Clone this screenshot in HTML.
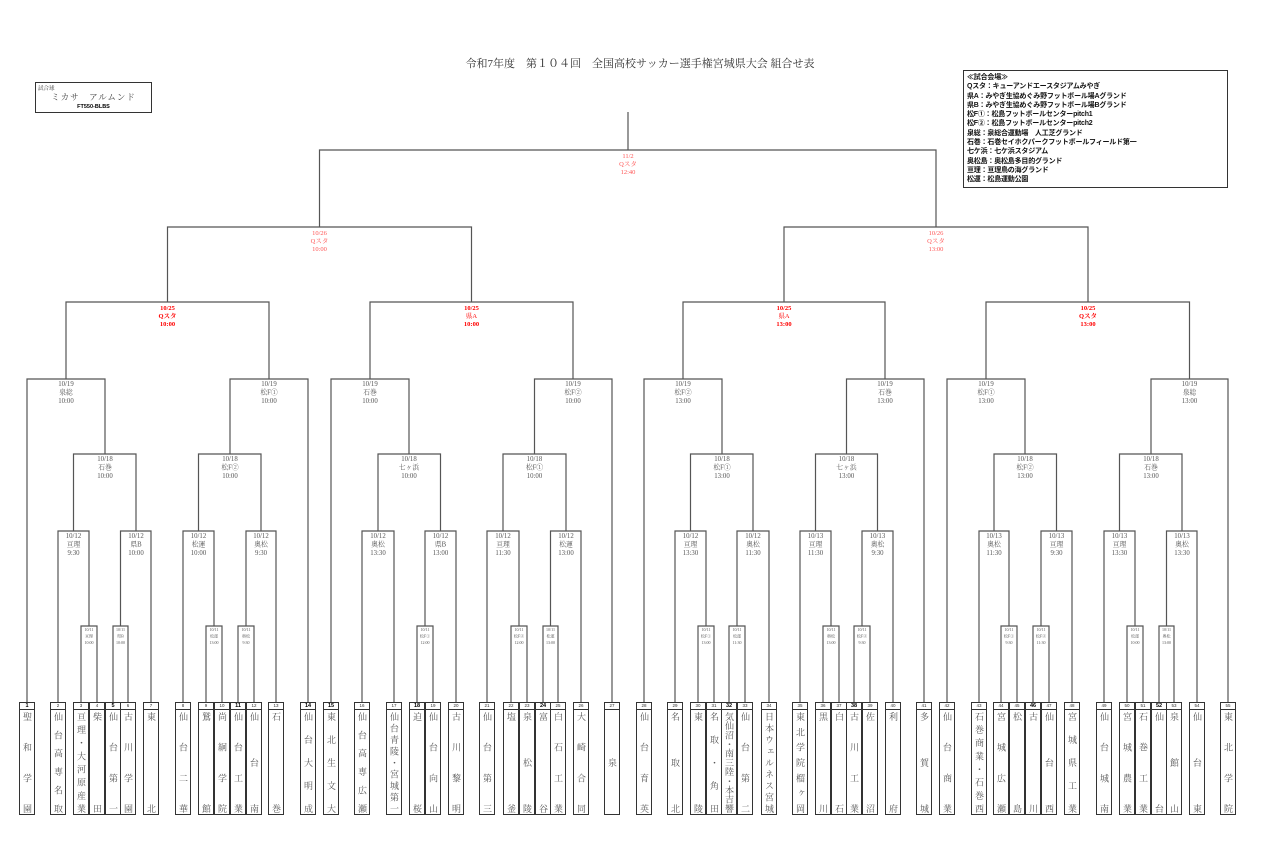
<!DOCTYPE html>
<html><head><meta charset="utf-8">
<style>
body{margin:0;background:#fff;}
#w{position:relative;width:1280px;height:854px;overflow:hidden;font-family:"Liberation Serif","Noto Serif CJK JP",serif;}
svg{position:absolute;left:0;top:0;}
.t{position:absolute;top:702px;width:16px;height:113px;border:1px solid #333;box-sizing:border-box;background:#fff;}
.n{height:6px;border-bottom:1px solid #333;font:4.5px "Liberation Sans",sans-serif;text-align:center;line-height:6px;color:#333;}
.n.b{font-weight:bold;font-size:5.5px;color:#000;}
.m{writing-mode:vertical-rl;text-orientation:upright;height:101px;width:14px;margin-top:2px;font-size:9px;line-height:14px;color:#555;text-align:justify;text-align-last:justify;font-family:"Liberation Serif","Noto Serif CJK JP",serif;}
.m.c{text-align:center;text-align-last:center;}
#ttl{position:absolute;left:0;width:1280px;top:55px;text-align:center;font-size:11px;color:#333;}
#ball{position:absolute;left:35px;top:82px;width:117px;height:31px;border:1px solid #333;box-sizing:border-box;}
#leg{position:absolute;left:963px;top:70px;width:265px;height:118px;border:1px solid #333;box-sizing:border-box;padding:2px 3px;font:bold 7px/9.3px "Liberation Sans","Noto Sans CJK JP",sans-serif;letter-spacing:-0.2px;color:#111;white-space:nowrap;overflow:hidden;}
</style></head><body><div id="w">
<div id="ttl">令和7年度　第１０４回　全国高校サッカー選手権宮城県大会 組合せ表</div>
<div id="ball"><div style="position:absolute;left:2px;top:1px;font-size:5.5px;color:#333">試合球</div><div style="position:absolute;left:0;width:115px;top:8px;text-align:center;font-size:8.5px;color:#444;letter-spacing:1px">ミカサ　アルムンド</div><div style="position:absolute;left:0;width:115px;top:21px;text-align:center;font:bold 5.5px 'Liberation Sans',sans-serif">FT550-BLBS</div></div>
<div id="leg">≪試合会場≫<br>Qスタ：キューアンドエースタジアムみやぎ<br>県A：みやぎ生協めぐみ野フットボール場Aグランド<br>県B：みやぎ生協めぐみ野フットボール場Bグランド<br>松F①：松島フットボールセンターpitch1<br>松F②：松島フットボールセンターpitch2<br>泉総：泉総合運動場　人工芝グランド<br>石巻：石巻セイホクパークフットボールフィールド第一<br>七ケ浜：七ケ浜スタジアム<br>奥松島：奥松島多目的グランド<br>亘理：亘理鳥の海グランド<br>松運：松島運動公園</div>
<svg width="1280" height="854" viewBox="0 0 1280 854">
<g fill="none" stroke="#555" stroke-width="1.2">
<path d="M81 702V626H97V702M113 702V626H128V702M206 702V626H222V702M238 702V626H254V702M58 702V531H89V626M120.5 626V531H151V702M183 702V531H214V626M246 626V531H276V702M73.5 531V454H136V531M198.5 531V454H261V531M27 702V379H105V454M230 454V379H308V702M66 379V302H269V379"/>
<path d="M417 702V626H433V702M511 702V626H527V702M543 702V626H558V702M362 702V531H394V702M425 626V531H456V702M487 702V531H519V626M550.5 626V531H581V702M378 531V454H440.5V531M503 531V454H566V531M331 702V379H409V454M534.5 454V379H612V702M370 379V302H573V379"/>
<path d="M698 702V626H714V702M729 702V626H745V702M823 702V626H839V702M854 702V626H870V702M675 702V531H706V626M737 626V531H769V702M800 702V531H831V626M862 626V531H893V702M690.5 531V454H753V531M815.5 531V454H877.5V531M644 702V379H722V454M846.5 454V379H924V702M683 379V302H885V379"/>
<path d="M1001 702V626H1017V702M1033 702V626H1049V702M1127 702V626H1143V702M1159 702V626H1174V702M979 702V531H1009V626M1041 626V531H1072V702M1104 702V531H1135V626M1166.5 626V531H1197V702M994 531V454H1056.5V531M1119.5 531V454H1182V531M947 702V379H1025V454M1151 454V379H1228V702M986 379V302H1189.5V379"/>
<path d="M167.5 302V227H471.5V302M784 302V227H1088V302M319.5 227V150H936V227M628 150V112"/>
</g>
<g font-family="Liberation Serif,Noto Serif CJK JP,serif" text-anchor="middle">
<g fill="#f55" font-size="6.5"><text x="628" y="158">11/2</text><text x="628" y="166">Qスタ</text><text x="628" y="174">12:40</text>
<text x="319.5" y="235">10/26</text><text x="319.5" y="243">Qスタ</text><text x="319.5" y="251">10:00</text>
<text x="936" y="235">10/26</text><text x="936" y="243">Qスタ</text><text x="936" y="251">13:00</text></g>
<g fill="#f00" font-size="6.5" font-weight="bold">
<text x="167.5" y="310">10/25</text><text x="167.5" y="318">Qスタ</text><text x="167.5" y="326">10:00</text>
<text x="471.5" y="310">10/25</text><text x="471.5" y="318" font-weight="normal">県A</text><text x="471.5" y="326">10:00</text>
<text x="784" y="310">10/25</text><text x="784" y="318" font-weight="normal">県A</text><text x="784" y="326">13:00</text>
<text x="1088" y="310">10/25</text><text x="1088" y="318">Qスタ</text><text x="1088" y="326">13:00</text></g>
<g fill="#555" font-size="6.8">
<text x="66" y="386">10/19</text><text x="66" y="394.5">泉総</text><text x="66" y="403">10:00</text>
<text x="269" y="386">10/19</text><text x="269" y="394.5">松F①</text><text x="269" y="403">10:00</text>
<text x="370" y="386">10/19</text><text x="370" y="394.5">石巻</text><text x="370" y="403">10:00</text>
<text x="573" y="386">10/19</text><text x="573" y="394.5">松F②</text><text x="573" y="403">10:00</text>
<text x="683" y="386">10/19</text><text x="683" y="394.5">松F②</text><text x="683" y="403">13:00</text>
<text x="885" y="386">10/19</text><text x="885" y="394.5">石巻</text><text x="885" y="403">13:00</text>
<text x="986" y="386">10/19</text><text x="986" y="394.5">松F①</text><text x="986" y="403">13:00</text>
<text x="1189.5" y="386">10/19</text><text x="1189.5" y="394.5">泉総</text><text x="1189.5" y="403">13:00</text>

<text x="105" y="461">10/18</text><text x="105" y="469.5">石巻</text><text x="105" y="478">10:00</text>
<text x="230" y="461">10/18</text><text x="230" y="469.5">松F②</text><text x="230" y="478">10:00</text>
<text x="409" y="461">10/18</text><text x="409" y="469.5">七ヶ浜</text><text x="409" y="478">10:00</text>
<text x="534.5" y="461">10/18</text><text x="534.5" y="469.5">松F①</text><text x="534.5" y="478">10:00</text>
<text x="722" y="461">10/18</text><text x="722" y="469.5">松F①</text><text x="722" y="478">13:00</text>
<text x="846.5" y="461">10/18</text><text x="846.5" y="469.5">七ヶ浜</text><text x="846.5" y="478">13:00</text>
<text x="1025" y="461">10/18</text><text x="1025" y="469.5">松F②</text><text x="1025" y="478">13:00</text>
<text x="1151" y="461">10/18</text><text x="1151" y="469.5">石巻</text><text x="1151" y="478">13:00</text>

<text x="73.5" y="538">10/12</text><text x="73.5" y="546.5">亘理</text><text x="73.5" y="555">9:30</text>
<text x="136" y="538">10/12</text><text x="136" y="546.5">県B</text><text x="136" y="555">10:00</text>
<text x="198.5" y="538">10/12</text><text x="198.5" y="546.5">松運</text><text x="198.5" y="555">10:00</text>
<text x="261" y="538">10/12</text><text x="261" y="546.5">奥松</text><text x="261" y="555">9:30</text>
<text x="378" y="538">10/12</text><text x="378" y="546.5">奥松</text><text x="378" y="555">13:30</text>
<text x="440.5" y="538">10/12</text><text x="440.5" y="546.5">県B</text><text x="440.5" y="555">13:00</text>
<text x="503" y="538">10/12</text><text x="503" y="546.5">亘理</text><text x="503" y="555">11:30</text>
<text x="566" y="538">10/12</text><text x="566" y="546.5">松運</text><text x="566" y="555">13:00</text>
<text x="690.5" y="538">10/12</text><text x="690.5" y="546.5">亘理</text><text x="690.5" y="555">13:30</text>
<text x="753" y="538">10/12</text><text x="753" y="546.5">奥松</text><text x="753" y="555">11:30</text>
<text x="815.5" y="538">10/13</text><text x="815.5" y="546.5">亘理</text><text x="815.5" y="555">11:30</text>
<text x="877.5" y="538">10/13</text><text x="877.5" y="546.5">奥松</text><text x="877.5" y="555">9:30</text>
<text x="994" y="538">10/13</text><text x="994" y="546.5">奥松</text><text x="994" y="555">11:30</text>
<text x="1056.5" y="538">10/13</text><text x="1056.5" y="546.5">亘理</text><text x="1056.5" y="555">9:30</text>
<text x="1119.5" y="538">10/13</text><text x="1119.5" y="546.5">亘理</text><text x="1119.5" y="555">13:30</text>
<text x="1182" y="538">10/13</text><text x="1182" y="546.5">奥松</text><text x="1182" y="555">13:30</text>
</g>
<g fill="#555" font-size="4">
<text x="89" y="631">10/11</text><text x="89" y="637.5">亘理</text><text x="89" y="644">10:00</text>
<text x="120.5" y="631">10/11</text><text x="120.5" y="637.5">県B</text><text x="120.5" y="644">10:00</text>
<text x="214" y="631">10/11</text><text x="214" y="637.5">松運</text><text x="214" y="644">13:00</text>
<text x="246" y="631">10/11</text><text x="246" y="637.5">奥松</text><text x="246" y="644">9:30</text>
<text x="425" y="631">10/11</text><text x="425" y="637.5">松F①</text><text x="425" y="644">12:00</text>
<text x="519" y="631">10/11</text><text x="519" y="637.5">松F②</text><text x="519" y="644">12:00</text>
<text x="550.5" y="631">10/11</text><text x="550.5" y="637.5">松運</text><text x="550.5" y="644">13:00</text>
<text x="706" y="631">10/11</text><text x="706" y="637.5">松F①</text><text x="706" y="644">13:00</text>
<text x="737" y="631">10/11</text><text x="737" y="637.5">松運</text><text x="737" y="644">11:30</text>
<text x="831" y="631">10/11</text><text x="831" y="637.5">奥松</text><text x="831" y="644">13:00</text>
<text x="862" y="631">10/11</text><text x="862" y="637.5">松F②</text><text x="862" y="644">9:30</text>
<text x="1009" y="631">10/11</text><text x="1009" y="637.5">松F①</text><text x="1009" y="644">9:30</text>
<text x="1041" y="631">10/11</text><text x="1041" y="637.5">松F②</text><text x="1041" y="644">11:30</text>
<text x="1135" y="631">10/11</text><text x="1135" y="637.5">松運</text><text x="1135" y="644">10:00</text>
<text x="1166.5" y="631">10/11</text><text x="1166.5" y="637.5">奥松</text><text x="1166.5" y="644">13:00</text>
</g>
</g>
</svg>
<div class="t" style="left:19px"><div class="n b">1</div><div class="m">聖和学園</div></div>
<div class="t" style="left:50px"><div class="n">2</div><div class="m">仙台高専名取</div></div>
<div class="t" style="left:73px"><div class="n">3</div><div class="m">亘理・大河原産業</div></div>
<div class="t" style="left:89px"><div class="n">4</div><div class="m">柴田</div></div>
<div class="t" style="left:105px"><div class="n b">5</div><div class="m">仙台第一</div></div>
<div class="t" style="left:120px"><div class="n">6</div><div class="m">古川学園</div></div>
<div class="t" style="left:143px"><div class="n">7</div><div class="m">東北</div></div>
<div class="t" style="left:175px"><div class="n">8</div><div class="m">仙台二華</div></div>
<div class="t" style="left:198px"><div class="n">9</div><div class="m">鷲館</div></div>
<div class="t" style="left:214px"><div class="n">10</div><div class="m">尚絅学院</div></div>
<div class="t" style="left:230px"><div class="n b">11</div><div class="m">仙台工業</div></div>
<div class="t" style="left:246px"><div class="n">12</div><div class="m">仙台南</div></div>
<div class="t" style="left:268px"><div class="n">13</div><div class="m">石巻</div></div>
<div class="t" style="left:300px"><div class="n b">14</div><div class="m">仙台大明成</div></div>
<div class="t" style="left:323px"><div class="n b">15</div><div class="m">東北生文大</div></div>
<div class="t" style="left:354px"><div class="n">16</div><div class="m">仙台高専広瀬</div></div>
<div class="t" style="left:386px"><div class="n">17</div><div class="m">仙台青陵・宮城第一</div></div>
<div class="t" style="left:409px"><div class="n b">18</div><div class="m">迫桜</div></div>
<div class="t" style="left:425px"><div class="n">19</div><div class="m">仙台向山</div></div>
<div class="t" style="left:448px"><div class="n">20</div><div class="m">古川黎明</div></div>
<div class="t" style="left:479px"><div class="n">21</div><div class="m">仙台第三</div></div>
<div class="t" style="left:503px"><div class="n">22</div><div class="m">塩釜</div></div>
<div class="t" style="left:519px"><div class="n">23</div><div class="m">泉松陵</div></div>
<div class="t" style="left:535px"><div class="n b">24</div><div class="m">富谷</div></div>
<div class="t" style="left:550px"><div class="n">25</div><div class="m">白石工業</div></div>
<div class="t" style="left:573px"><div class="n">26</div><div class="m">大崎合同</div></div>
<div class="t" style="left:604px"><div class="n">27</div><div class="m c">泉</div></div>
<div class="t" style="left:636px"><div class="n">28</div><div class="m">仙台育英</div></div>
<div class="t" style="left:667px"><div class="n">29</div><div class="m">名取北</div></div>
<div class="t" style="left:690px"><div class="n">30</div><div class="m">東陵</div></div>
<div class="t" style="left:706px"><div class="n">31</div><div class="m">名取・角田</div></div>
<div class="t" style="left:721px"><div class="n b">32</div><div class="m">気仙沼・南三陸・本吉響</div></div>
<div class="t" style="left:737px"><div class="n">33</div><div class="m">仙台第二</div></div>
<div class="t" style="left:761px"><div class="n">34</div><div class="m">日本ウェルネス宮城</div></div>
<div class="t" style="left:792px"><div class="n">35</div><div class="m">東北学院榴ヶ岡</div></div>
<div class="t" style="left:815px"><div class="n">36</div><div class="m">黒川</div></div>
<div class="t" style="left:831px"><div class="n">37</div><div class="m">白石</div></div>
<div class="t" style="left:846px"><div class="n b">38</div><div class="m">古川工業</div></div>
<div class="t" style="left:862px"><div class="n">39</div><div class="m">佐沼</div></div>
<div class="t" style="left:885px"><div class="n">40</div><div class="m">利府</div></div>
<div class="t" style="left:916px"><div class="n">41</div><div class="m">多賀城</div></div>
<div class="t" style="left:939px"><div class="n">42</div><div class="m">仙台商業</div></div>
<div class="t" style="left:971px"><div class="n">43</div><div class="m">石巻商業・石巻西</div></div>
<div class="t" style="left:993px"><div class="n">44</div><div class="m">宮城広瀬</div></div>
<div class="t" style="left:1009px"><div class="n">45</div><div class="m">松島</div></div>
<div class="t" style="left:1025px"><div class="n b">46</div><div class="m">古川</div></div>
<div class="t" style="left:1041px"><div class="n">47</div><div class="m">仙台西</div></div>
<div class="t" style="left:1064px"><div class="n">48</div><div class="m">宮城県工業</div></div>
<div class="t" style="left:1096px"><div class="n">49</div><div class="m">仙台城南</div></div>
<div class="t" style="left:1119px"><div class="n">50</div><div class="m">宮城農業</div></div>
<div class="t" style="left:1135px"><div class="n">51</div><div class="m">石巻工業</div></div>
<div class="t" style="left:1151px"><div class="n b">52</div><div class="m">仙台</div></div>
<div class="t" style="left:1166px"><div class="n">53</div><div class="m">泉館山</div></div>
<div class="t" style="left:1189px"><div class="n">54</div><div class="m">仙台東</div></div>
<div class="t" style="left:1220px"><div class="n">55</div><div class="m">東北学院</div></div>
</div></body></html>
